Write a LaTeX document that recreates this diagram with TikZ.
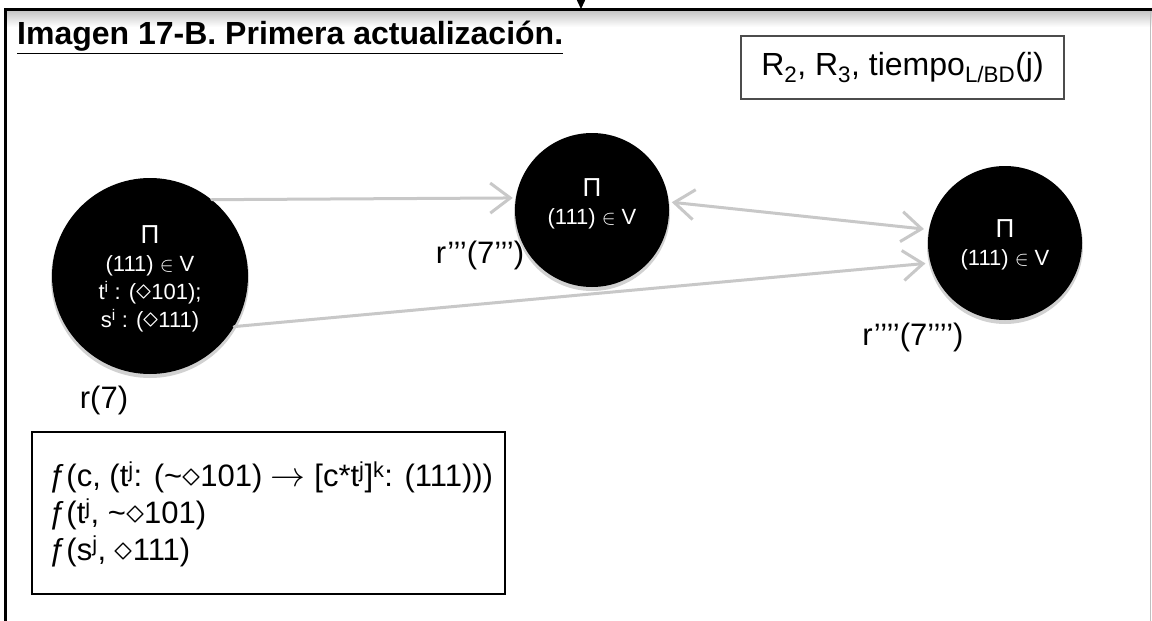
\documentclass[tikz,border=0pt]{standalone}
\usepackage{fontspec}
\setmainfont{Liberation Sans}
\usetikzlibrary{arrows.meta}
\definecolor{conncol}{HTML}{C8C8C8}
\newcommand{\dm}{\scalebox{1.45}{$\diamond$}}
\newcommand{\rar}{\scalebox{1.4}{$\rightarrow$}}
\newcommand{\bigpi}{{\fontsize{26}{28}\selectfont Π}}
\begin{document}
\begin{tikzpicture}[x=1pt,y=-1pt,
  circ/.style={circle, fill=black, draw=none, inner sep=0pt},
  ctext/.style={text=white, align=center, font=\fontsize{22}{28}\selectfont, inner sep=0pt},
  lbl/.style={font=\fontsize{31}{37}\selectfont, inner sep=0pt},
  conn/.style={draw=conncol, line width=3pt, line cap=round},
  barb/.style={-{Straight Barb[length=20pt,width=30pt,line width=3pt]}},
  dbarb/.style={{Straight Barb[length=20pt,width=30pt,line width=3pt]}-{Straight Barb[length=20pt,width=30pt,line width=3pt]}},
  shadowc/.style={circle, fill=black, opacity=0.18, draw=none, inner sep=0pt}
]
\useasboundingbox (0,0) rectangle (1152,621);
\fill[white] (0,0) rectangle (1152,621);
% frame and its soft shadow
\shade[top color=black!22, bottom color=white] (6,11) rectangle (1152,27);
\draw[black!25, line width=0.8pt] (1150.5,9.5) -- (1150.5,621);
\draw[line width=2.5pt] (5.5,621) -- (5.5,9.5) -- (1152,9.5);
% incoming arrow at the top
\coordinate (ain) at (581,0);
\coordinate (aout) at (581,9);
\draw[line width=1.2pt, -{Triangle[length=11pt,width=10pt]}] (ain) -- (aout);
% title
\node[anchor=base west, inner sep=0pt, font=\bfseries\fontsize{32}{38}\selectfont] (title) at (17,45) {\underline{Imagen 17-B. Primera actualización.}};
% R box
\node[draw=black!70, line width=2pt, minimum width=323pt, minimum height=63pt, inner sep=0pt, font=\fontsize{32}{38}\selectfont] (rbox) at (902.5,67.5) {R\textsubscript{2}, R\textsubscript{3}, tiempo\textsubscript{L/BD}(j)};
% circle shadows
\node[shadowc, minimum size=198pt] (s1) at (150,279) {};
\node[shadowc, minimum size=156pt] (s2) at (592,213) {};
\node[shadowc, minimum size=156pt] (s3) at (1005,246) {};
% circles
\node[circ, minimum size=196pt] (c1) at (150,276) {};
\node[circ, minimum size=154pt] (c2) at (592,210) {};
\node[circ, minimum size=154pt] (c3) at (1005,243) {};
\node[ctext] (t1) at (150,279) {\bigpi\\(111) $\in$ V\\t\textsuperscript{i} : (\dm101);\\s\textsuperscript{i} : (\dm111)};
\node[ctext] (t2) at (592,204) {\bigpi\\(111) $\in$ V};
\node[ctext] (t3) at (1005,245) {\bigpi\\(111) $\in$ V};
% connectors
\draw[conn, barb, shorten >=3pt] (c1.51) -- (c2.171);
\draw[conn, barb, shorten >=5pt] (c1.-31) -- (c3.195);
\draw[conn, dbarb, shorten >=5pt, shorten <=3pt] (c2.6) -- (c3.170);
% labels
\node[lbl] (l1) at (104,400) {r(7)};
\node[lbl] (l2) at (480,255) {r’’’(7’’’)};
\node[lbl] (l3) at (913,337) {r’’’’(7’’’’)};
% formula box
\draw[line width=2pt] (32,432) rectangle (505,594);
\node[anchor=west, align=left, inner sep=0pt, font=\fontsize{31}{37}\selectfont] (form) at (49,514) {ƒ(c, (t\textsuperscript{j}: (\textasciitilde\dm101) \rar{} [c*t\textsuperscript{j}]\textsuperscript{k}: (111)))\\ƒ(t\textsuperscript{j}, \textasciitilde\dm101)\\ƒ(s\textsuperscript{j}, \dm111)};
\end{tikzpicture}
\end{document}
